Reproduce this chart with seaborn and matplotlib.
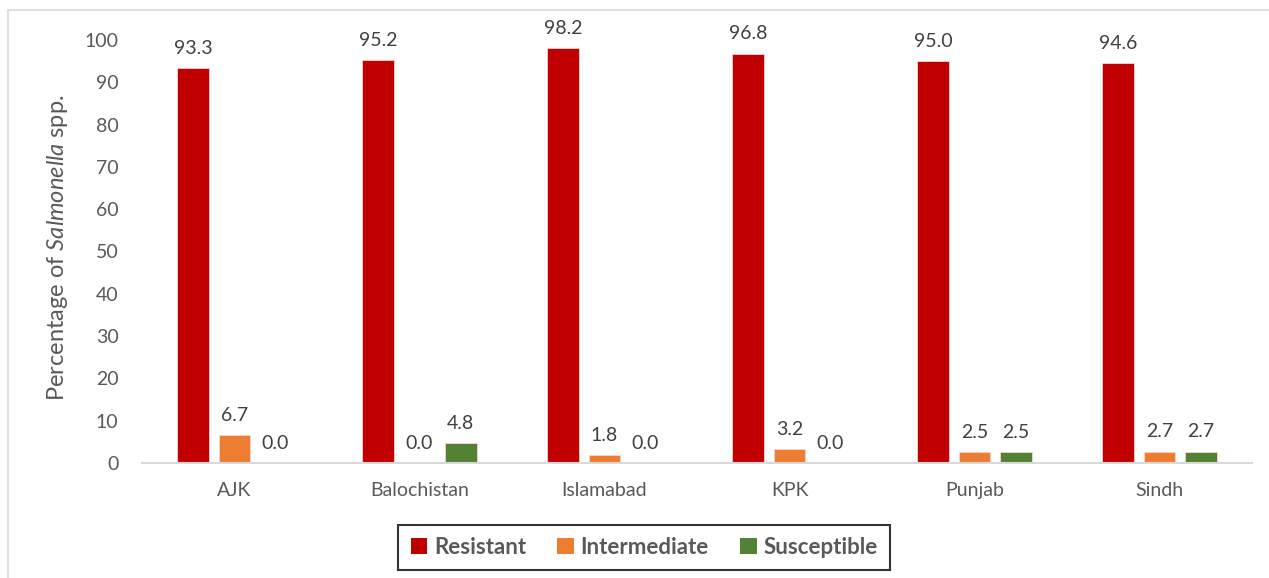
import matplotlib
matplotlib.use("Agg")
import matplotlib.pyplot as plt
from matplotlib.patches import Patch
from matplotlib.lines import Line2D
import seaborn as sns
import pandas as pd

regions = ["AJK", "Balochistan", "Islamabad", "KPK", "Punjab", "Sindh"]
statuses = ["Resistant", "Intermediate", "Susceptible"]
resistant = [93.3, 95.2, 98.2, 96.8, 95.0, 94.6]
intermediate = [6.7, 0.0, 1.8, 3.2, 2.5, 2.7]
susceptible = [0.0, 4.8, 0.0, 0.0, 2.5, 2.7]
colors = ["#C00000", "#ED7D31", "#548235"]
y_ticks = [0, 10, 20, 30, 40, 50, 60, 70, 80, 90, 100]

rows = []
for status, vals in zip(statuses, [resistant, intermediate, susceptible]):
    for reg, v in zip(regions, vals):
        rows.append({"Region": reg, "Status": status, "Percent": v})
df = pd.DataFrame(rows)

sns.set_theme(style="white")
plt.rcParams["font.family"] = ["Lato", "DejaVu Sans"]
plt.rcParams["mathtext.fontset"] = "custom"
plt.rcParams["mathtext.rm"] = "Lato"
plt.rcParams["mathtext.it"] = "Lato:italic"

text_gray = "#595959"
label_gray = "#404040"

fig = plt.figure(figsize=(12.69, 5.78), dpi=100)
ax = fig.add_axes([142 / 1269, 1 - 463 / 578, (1252 - 142) / 1269, (463 - 40) / 578])

sns.barplot(data=df, x="Region", y="Percent", hue="Status", order=regions,
            hue_order=statuses, palette=colors, width=0.665, gap=0.22,
            edgecolor="#f5d5d5", linewidth=0.6, saturation=1, ax=ax,
            legend=False)

for cont in ax.containers:
    ax.bar_label(cont, fmt="%.1f", padding=8, fontsize=14, color=label_gray)

ax.set_ylim(0, 100)
ax.set_yticks(y_ticks)
ax.set_xlim(-0.5, len(regions) - 0.5)
ax.tick_params(axis="y", length=0, pad=17, labelsize=14, labelcolor=text_gray)
ax.tick_params(axis="x", length=0, pad=14, labelsize=14, labelcolor=text_gray)
ax.set_xlabel("")
ax.set_ylabel(r"Percentage of $\it{Salmonella}$ spp.", fontsize=17,
              color=text_gray)
ax.yaxis.set_label_coords(-0.065, 0.51)
for side in ["top", "right", "left"]:
    ax.spines[side].set_visible(False)
ax.spines["bottom"].set_color("#d9d9d9")
ax.spines["bottom"].set_linewidth(1.5)
ax.grid(False)

handles = [Patch(facecolor=c, edgecolor="none") for c in colors]
leg = fig.legend(handles, statuses, loc="center", bbox_to_anchor=(644 / 1269, 1 - 547.5 / 578),
                 ncol=3, frameon=True, fancybox=False, edgecolor="black",
                 handlelength=0.75, handleheight=0.75, handletextpad=0.3,
                 columnspacing=1.4, borderpad=0.55, borderaxespad=0,
                 prop={"weight": "bold", "size": 16})
leg.get_frame().set_linewidth(1.5)
for t in leg.get_texts():
    t.set_color(text_gray)

# light outer chart border
fig.add_artist(Line2D([8 / 1269, 1.0], [1 - 10 / 578, 1 - 10 / 578],
                      transform=fig.transFigure, color="#d9d9d9", linewidth=1.2))
fig.add_artist(Line2D([8 / 1269, 8 / 1269], [0.0, 1 - 10 / 578],
                      transform=fig.transFigure, color="#d9d9d9", linewidth=1.2))

fig.savefig("out.png", dpi=100, facecolor="white")
